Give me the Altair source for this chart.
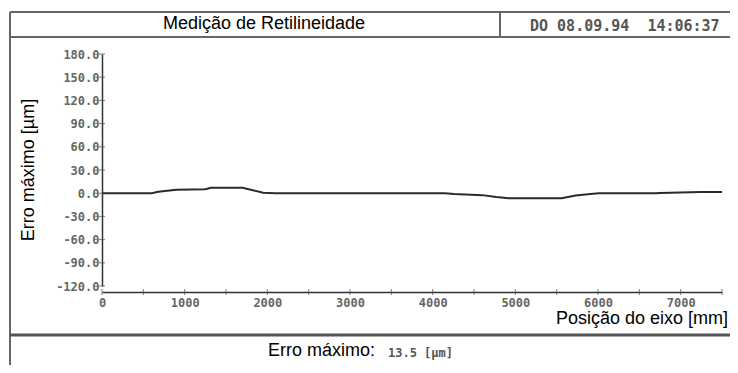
import altair as alt
import pandas as pd

# ---- data ----
pos_mm = [0, 600, 680, 900, 1250, 1320, 1700, 1800, 1950, 2100, 4150, 4260, 4600, 4770, 4920, 5560, 5730, 5910, 6010, 6700, 6750, 7240, 7500]
err_um = [0, 0, 2.0, 4.5, 5.0, 7.0, 7.0, 4.5, 0.5, 0, 0, -1.0, -2.5, -5.0, -6.5, -6.5, -3.0, -1.0, 0, 0, 0.3, 1.5, 1.5]

y_ticks = [-120, -90, -60, -30, 0, 30, 60, 90, 120, 150, 180]
x_label_ticks = [0, 1000, 2000, 3000, 4000, 5000, 6000, 7000]
x_minor_ticks = [0, 500, 1000, 1500, 2000, 2500, 3000, 3500, 4000, 4500, 5000, 5500, 6000, 6500, 7000, 7500]

title_text = "Medição de Retilineidade"
date_text = "DO 08.09.94\u00a0\u00a014:06:37"
y_title = "Erro máximo [µm]"
x_title = "Posição do eixo [mm]"
footer_label = "Erro máximo:"
footer_value = "13.5 [µm]"

W, H = 620, 232
MONO = "DejaVu Sans Mono"
SANS = "Liberation Sans"

df = pd.DataFrame({"pos": pos_mm, "err": err_um})

xscale = alt.Scale(domain=[0, 7500], nice=False, zero=False)
yscale = alt.Scale(domain=[-120, 180], nice=False, zero=False)

xaxis = alt.Axis(values=x_label_ticks, format="d", title=None, grid=False, ticks=False,
                 offset=6, domainColor="#333", domainWidth=1.5,
                 labelFont=MONO, labelFontSize=12, labelFontWeight="bold",
                 labelColor="#666", labelPadding=5, labelFlush=False,
                 labelOverlap=False)
yaxis = alt.Axis(values=y_ticks, title=None, grid=False, ticks=False,
                 domainColor="#333", domainWidth=1.5,
                 labelFont=MONO, labelFontSize=12, labelFontWeight="bold",
                 labelColor="#666", labelPadding=3, labelOverlap=False,
                 labelFlush=False,
                 labelExpr="(datum.value < 0 ? '-' : '') + format(abs(datum.value), '.1f')")

line = alt.Chart(df).mark_line(color="#2a2a2a", strokeWidth=2).encode(
    x=alt.X("pos:Q", scale=xscale, axis=xaxis),
    y=alt.Y("err:Q", scale=yscale, axis=yaxis),
)

ytick_layer = alt.Chart(pd.DataFrame({"err": y_ticks})).mark_tick(
    color="#444", size=6, thickness=1, orient="horizontal"
).encode(y=alt.Y("err:Q", scale=yscale, axis=yaxis), x=alt.value(0))

xtick_layer = alt.Chart(pd.DataFrame({"pos": x_minor_ticks})).mark_tick(
    color="#444", size=6, thickness=1, orient="vertical"
).encode(x=alt.X("pos:Q", scale=xscale, axis=xaxis), y=alt.value(H + 6))


def rule(x1, x2, y1, y2, color="#666", width=2):
    return alt.Chart(pd.DataFrame({"a": [0]})).mark_rule(color=color, strokeWidth=width).encode(
        x=alt.value(x1), x2=alt.value(x2), y=alt.value(y1), y2=alt.value(y2))


def text(t, x, y, font=SANS, size=18, align="center", angle=0, color="#000", weight="normal"):
    return alt.Chart(pd.DataFrame({"t": [t]})).mark_text(
        font=font, fontSize=size, align=align, baseline="middle", angle=angle,
        color=color, fontWeight=weight
    ).encode(x=alt.value(x), y=alt.value(y), text="t:N")


frame = [
    rule(-92, -92, -42, 320),            # left border
    rule(-92, 640, -42, -42),            # top border
    rule(-92, 640, -17, -17),            # header bottom
    rule(398, 398, -42, -17),            # header divider
    rule(-92, 640, 281, 281, color="#555", width=3),  # footer separator
]

texts = [
    text(title_text, 162, -30, size=18),
    text(date_text, 428, -28, font=MONO, size=15, align="left", color="#555", weight="bold"),
    text(y_title, -73, 116, size=18, angle=270),
    text(x_title, 626, 265, size=18, align="right"),
    text(footer_label, 166, 297, size=18, align="left"),
    text(footer_value, 286, 299, font=MONO, size=12, align="left", color="#555", weight="bold"),
]

chart = alt.layer(line, ytick_layer, xtick_layer, *frame, *texts).properties(
    width=W, height=H,
    background="white",
    padding={"left": 94, "top": 46, "right": 8, "bottom": 79},
    autosize=alt.AutoSizeParams(type="none"),
).configure_view(strokeWidth=0, strokeOpacity=0)

chart.save("out.html", embed_options={"renderer": "svg", "actions": False})
